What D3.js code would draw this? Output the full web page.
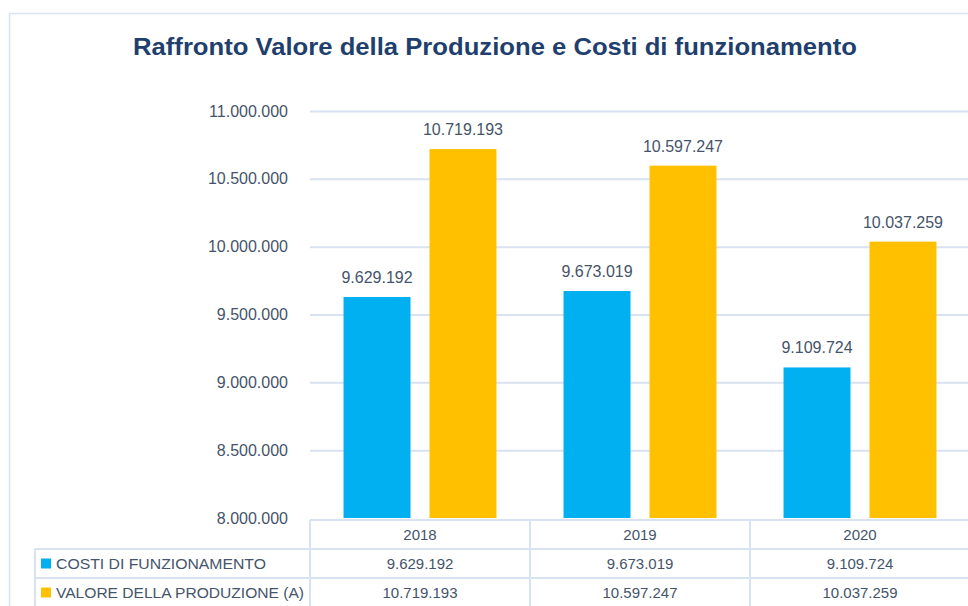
<html lang="it">
<head>
<meta http-equiv="Content-Type" content="text/html; charset=UTF-8">
<title>Raffronto Valore della Produzione e Costi di funzionamento</title>
<script type="text/javascript" src="https://cdn.jsdelivr.net/npm/d3@7"></script>
<style type="text/css">
body { margin: 0; background: #fff; }
text { font-family: "Liberation Sans", Arial, sans-serif; }
</style>
</head>
<body>

<script type="text/javascript">

var years = ["2018", "2019", "2020"];
var costi = [9629192, 9673019, 9109724];
var valore = [10719193, 10597247, 10037259];
var seriesNames = ["COSTI DI FUNZIONAMENTO", "VALORE DELLA PRODUZIONE (A)"];
var seriesColors = ["#00B0F0", "#FFC000"];
var yTicks = [8000000, 8500000, 9000000, 9500000, 10000000, 10500000, 11000000];
var title = "Raffronto Valore della Produzione e Costi di funzionamento";

var fmt = d3.formatLocale({decimal: ",", thousands: ".", grouping: [3], currency: ["", ""]}).format(",");
var textCol = "#44546A";
var lineCol = "#D9E2F1";

var svg = d3.select("body").append("svg")
    .attr("width", 968)
    .attr("height", 606);

// outer chart frame (cut off on the right and bottom)
svg.append("rect")
    .attr("x", 9.5).attr("y", 13.5)
    .attr("width", 1000).attr("height", 700)
    .attr("fill", "none")
    .attr("stroke", lineCol)
    .attr("stroke-width", 1.5);

svg.append("text")
    .attr("x", 133).attr("y", 55)
    .attr("font-size", 23)
    .attr("font-weight", "bold")
    .attr("fill", "#1F3F6E")
    .attr("textLength", 724)
    .attr("lengthAdjust", "spacingAndGlyphs")
    .text(title);

var x0 = d3.scaleBand().domain(years).range([310, 970]).paddingInner(0);
var x1 = d3.scaleBand().domain([0, 1]).range([0, x0.bandwidth()])
    .paddingInner(0.221).paddingOuter(0.39);
var y = d3.scaleLinear().domain([8000000, 11000000]).range([518, 111]);

// gridlines + tick labels
var yAxis = svg.append("g")
    .attr("transform", "translate(310,0)")
    .call(d3.axisLeft(y).tickValues(yTicks).tickFormat(fmt).tickSize(0).tickPadding(22));
yAxis.select(".domain").remove();
yAxis.selectAll("text")
    .attr("font-size", 16)
    .attr("fill", textCol)
    .style("font-family", "'Liberation Sans', Arial, sans-serif");

svg.append("g")
    .attr("transform", "translate(310,0)")
    .call(d3.axisRight(y).tickValues(yTicks.slice(1)).tickSize(660).tickFormat(""))
    .call(function(g){
        g.select(".domain").remove();
        g.selectAll("line").attr("stroke", lineCol).attr("stroke-width", 2);
    });

var rows = [costi, valore];

rows.forEach(function(vals, s){
    svg.selectAll(".bar" + s)
    .data(vals).enter().append("rect")
    .attr("x", function(d, i){ return x0(years[i]) + x1(s); })
    .attr("y", function(d){ return y(d); })
    .attr("width", x1.bandwidth())
    .attr("height", function(d){ return y(8000000) - y(d); })
    .attr("fill", seriesColors[s]);

    svg.selectAll(".lab" + s)
    .data(vals).enter().append("text")
    .attr("x", function(d, i){ return x0(years[i]) + x1(s) + x1.bandwidth() / 2; })
    .attr("y", function(d){ return y(d) - 14; })
    .attr("text-anchor", "middle")
    .attr("font-size", 16)
    .attr("fill", textCol)
    .text(function(d){ return fmt(d); });
});

// data table
var tableTop = 520, rowH = 29;
var tl = svg.append("g").attr("stroke", lineCol).attr("stroke-width", 2);
tl.append("line").attr("x1", 310).attr("x2", 970).attr("y1", tableTop).attr("y2", tableTop);
tl.append("line").attr("x1", 35).attr("x2", 970).attr("y1", tableTop + rowH).attr("y2", tableTop + rowH);
tl.append("line").attr("x1", 35).attr("x2", 970).attr("y1", tableTop + 2 * rowH).attr("y2", tableTop + 2 * rowH);
tl.append("line").attr("x1", 35).attr("x2", 35).attr("y1", tableTop + rowH).attr("y2", 606);
tl.selectAll(".vl").data(years).enter().append("line")
    .attr("x1", function(d){ return x0(d); })
    .attr("x2", function(d){ return x0(d); })
    .attr("y1", tableTop).attr("y2", 606);

svg.selectAll(".yr").data(years).enter().append("text")
    .attr("x", function(d){ return x0(d) + x0.bandwidth() / 2; })
    .attr("y", tableTop + rowH / 2 + 5)
    .attr("text-anchor", "middle")
    .attr("font-size", 15)
    .attr("fill", textCol)
    .text(function(d){ return d; });

var legendW = [210, 248];
rows.forEach(function(vals, s){
    var cy = tableTop + rowH * (s + 1) + rowH / 2;
    svg.append("rect")
    .attr("x", 41).attr("y", cy - 5)
    .attr("width", 10).attr("height", 10)
    .attr("fill", seriesColors[s]);
    svg.append("text")
    .attr("x", 56).attr("y", cy + 5)
    .attr("font-size", 15)
    .attr("fill", textCol)
    .attr("textLength", legendW[s])
    .attr("lengthAdjust", "spacingAndGlyphs")
    .text(seriesNames[s]);
    svg.selectAll(".cell" + s).data(vals).enter().append("text")
    .attr("x", function(d, i){ return x0(years[i]) + x0.bandwidth() / 2; })
    .attr("y", cy + 5)
    .attr("text-anchor", "middle")
    .attr("font-size", 15)
    .attr("fill", textCol)
    .text(function(d){ return fmt(d); });
});

</script>

</body>
</html>
